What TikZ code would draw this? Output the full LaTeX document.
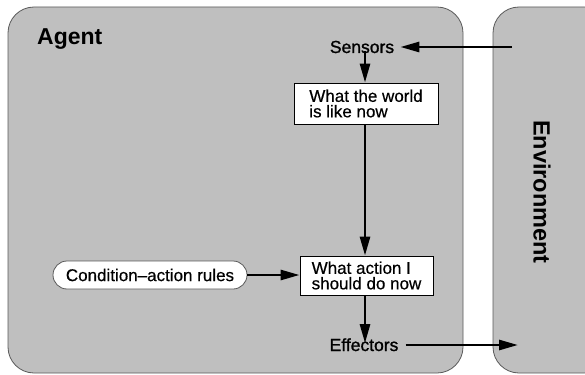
\documentclass[tikz,border=0pt]{standalone}
\usepackage{fontspec}
\setmainfont{Liberation Sans}
\newfontfamily\semibold[Ligatures=TeX,FakeBold=1.2]{Liberation Sans}
\newfontfamily\lightbold[Ligatures=TeX,FakeBold=0.5]{Liberation Sans}
\usetikzlibrary{arrows.meta,shapes.misc}
\definecolor{panel}{RGB}{191,191,191}
\definecolor{edge}{RGB}{90,90,90}
\tikzset{
  panelbox/.style={fill=panel,draw=edge,line width=0.8pt},
  infobox/.style={draw=black,fill=white,line width=0.8pt,align=left,inner sep=0pt,font=\lightbold\fontsize{17}{15.5}\selectfont},
  plain/.style={inner sep=0pt,font=\semibold\fontsize{17.5}{17.5}\selectfont},
  flow/.style={line width=2.7pt,-{Triangle[length=19pt,width=10pt]}},
}
\begin{document}
\begin{tikzpicture}[x=1pt,y=-1pt]
\useasboundingbox (0,0) rectangle (585,374);
\begin{scope}
\clip (0,0) rectangle (585,374);
\draw[panelbox,rounded corners=26pt] (8,7) rectangle (463,373);
\draw[panelbox,rounded corners=26pt] (493,7) rectangle (610,373);
\end{scope}
\node[anchor=base west,inner sep=0pt,font=\fontsize{23}{23}\selectfont\bfseries] (agent) at (37,45) {Agent};
\node[rotate=-90,inner sep=0pt,font=\fontsize{23.5}{23.5}\selectfont\bfseries] (env) at (542,192) {Environment};
\node[plain,anchor=base] (sensors) at (362,53) {Sensors};
\node[infobox,minimum width=144pt,minimum height=41pt] (world) at (366,103.5) {What the world\\is like now};
\node[infobox,minimum width=133pt,minimum height=39pt] (action) at (366.5,275.5) {What action I\\should do now};
\node[plain,anchor=base] (effectors) at (364,351) {Effectors};
\node[draw=edge,fill=white,line width=0.8pt,rounded rectangle,minimum width=194pt,minimum height=28pt,inner sep=0pt,font=\lightbold\fontsize{17}{17}\selectfont] (rules) at (150,275) {Condition–action rules};
\coordinate (envin) at (512,47);
\coordinate (envout) at (518,345);
\coordinate (stem) at (365,0);
\draw[flow] (envin) -- ([xshift=6pt]sensors.east |- envin);
\draw[flow] ([yshift=2pt]sensors.south -| stem) -- (world.north -| stem);
\draw[flow] (world.south -| stem) -- (action.north -| stem);
\draw[flow] (action.south -| stem) -- ([yshift=-5pt]effectors.north -| stem);
\draw[flow] (rules.east) -- (action.west |- rules.east);
\draw[flow] ([xshift=7pt]effectors.east |- envout) -- (envout);
\end{tikzpicture}
\end{document}
